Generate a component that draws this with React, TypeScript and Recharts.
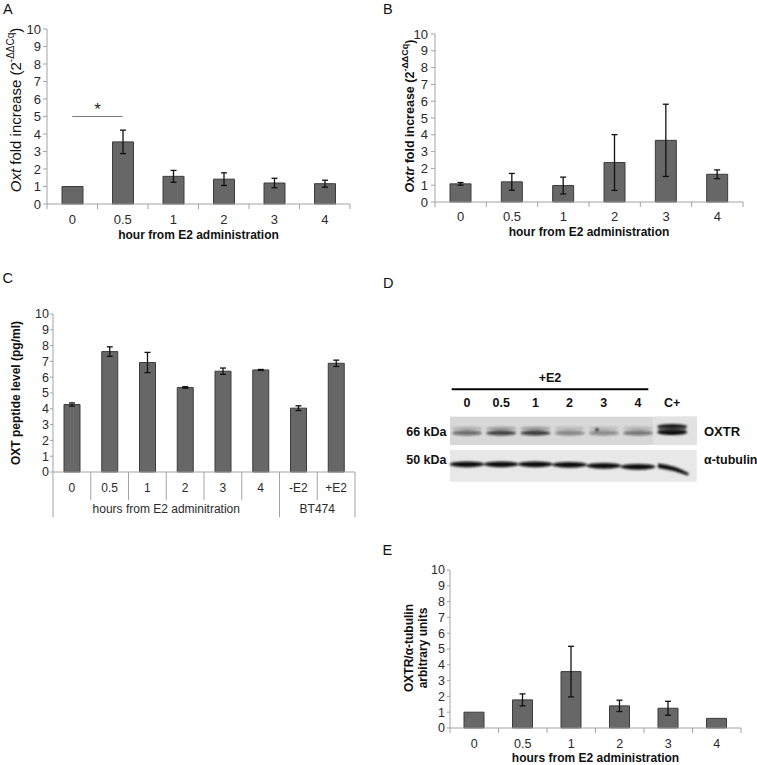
import React from "react";
import { BarChart, Bar, XAxis, YAxis, ErrorBar, ReferenceLine, Label } from "recharts";

const FONT = "'Liberation Sans', Arial, sans-serif";
const AXIS = "#a3a3a3";
const BAR_FILL = "#676767";
const BAR_EDGE = "#3c3c3c";
const TEXT = "#2a2a2a";

const yTicks = [0, 1, 2, 3, 4, 5, 6, 7, 8, 9, 10];
const hourCats = ["0", "0.5", "1", "2", "3", "4"];

// A - Oxt mRNA
const oxtMean = [1.0, 3.55, 1.58, 1.42, 1.2, 1.16];
const oxtErr = [0, 0.67, 0.34, 0.36, 0.27, 0.2];

// B - Oxtr mRNA
const oxtrMean = [1.08, 1.2, 0.98, 2.35, 3.67, 1.65];
const oxtrErr = [0.08, 0.5, 0.5, 1.66, 2.15, 0.26];

// C - OXT peptide
const peptideCats = ["0", "0.5", "1", "2", "3", "4", "-E2", "+E2"];
const peptideMean = [4.27, 7.62, 6.93, 5.35, 6.38, 6.46, 4.04, 6.88];
const peptideErr = [0.1, 0.3, 0.64, 0.05, 0.2, 0.03, 0.15, 0.2];
const peptideGroups = [
  { label: "hours from E2 adminitration", from: 0, to: 6 },
  { label: "BT474", from: 6, to: 8 },
];

// D - western blot lanes
const blotLanes = ["0", "0.5", "1", "2", "3", "4", "C+"];
const oxtrBand = [0.55, 0.75, 0.78, 0.42, 0.4, 0.5, 1];
const tubulinDrop = [0, 0, 0, 0.5, 1.5, 2.5];

// E - OXTR / tubulin
const ratioMean = [1.0, 1.78, 3.57, 1.4, 1.25, 0.61];
const ratioErr = [0, 0.38, 1.6, 0.36, 0.44, 0];

const rows = (cats: string[], mean: number[], err: number[]) =>
  cats.map((cat, i) => ({ cat, mean: mean[i], err: err[i] }));

function boundaryTick(bw: number, count: number, baseline: number, fontSize: number) {
  return (props: any) => {
    const { x, y, payload, index } = props;
    const left = x - bw / 2;
    return (
      <g>
        <line x1={left} y1={y} x2={left} y2={y + 5} stroke={AXIS} />
        {index === count - 1 && (
          <line x1={x + bw / 2} y1={y} x2={x + bw / 2} y2={y + 5} stroke={AXIS} />
        )}
        <text x={x} y={y + baseline} textAnchor="middle" fontSize={fontSize} fill={TEXT} fontFamily={FONT}>
          {payload.value}
        </text>
      </g>
    );
  };
}

function tableTick(bw: number, count: number) {
  return (props: any) => {
    const { x, y, payload, index } = props;
    const left = x - bw / 2;
    const group = peptideGroups.find((g) => g.from === index);
    return (
      <g>
        <line x1={left} y1={y} x2={left} y2={y + (group ? 45 : 28)} stroke={AXIS} />
        {index === count - 1 && (
          <line x1={x + bw / 2} y1={y} x2={x + bw / 2} y2={y + 45} stroke={AXIS} />
        )}
        <text x={x} y={y + 19.5} textAnchor="middle" fontSize={12} fill={TEXT} fontFamily={FONT}>
          {payload.value}
        </text>
        {group && (
          <text
            x={left + ((group.to - group.from) * bw) / 2}
            y={y + 40.5}
            textAnchor="middle"
            fontSize={12}
            fill={TEXT}
            fontFamily={FONT}
          >
            {group.label}
          </text>
        )}
      </g>
    );
  };
}

const xTitle = (cx: number, y: number, text: string) => () =>
  (
    <text x={cx} y={y} textAnchor="middle" fontSize={12} fontWeight="bold" fill="#111" fontFamily={FONT}>
      {text}
    </text>
  );

const rot = (cx: number, cy: number) => `rotate(-90 ${cx} ${cy})`;

const yTitleA = () => (
  <text x={15} y={110} transform={rot(15, 110)} textAnchor="middle" dominantBaseline="central"
    fontSize={15} fill="#111" fontFamily={FONT}>
    <tspan fontStyle="italic">Oxt</tspan> fold increase (2
    <tspan dy={-5} fontSize={10}>-ΔΔCq</tspan>
    <tspan dy={5}>)</tspan>
  </text>
);

const yTitleB = () => (
  <text x={30} y={116} transform={rot(30, 116)} textAnchor="middle" dominantBaseline="central"
    fontSize={12.5} fontWeight="bold" fill="#111" fontFamily={FONT}>
    <tspan fontStyle="italic">Oxtr</tspan> fold increase (2
    <tspan dy={-5} fontSize={9}>-ΔΔCq</tspan>
    <tspan dy={5}>)</tspan>
  </text>
);

const yTitleC = () => (
  <text x={16} y={153} transform={rot(16, 153)} textAnchor="middle" dominantBaseline="central"
    fontSize={12} fontWeight="bold" fill="#111" fontFamily={FONT}>
    OXT peptide level (pg/ml)
  </text>
);

const yTitleE = () => (
  <g>
    <text x={29} y={108} transform={rot(29, 108)} textAnchor="middle" dominantBaseline="central"
      fontSize={12} fontWeight="bold" fill="#111" fontFamily={FONT}>
      OXTR/α-tubulin
    </text>
    <text x={43} y={108} transform={rot(43, 108)} textAnchor="middle" dominantBaseline="central"
      fontSize={12} fontWeight="bold" fill="#111" fontFamily={FONT}>
      arbitrary units
    </text>
  </g>
);

type PanelProps = {
  left: number;
  top: number;
  width: number;
  height: number;
  margin: { top: number; right: number; bottom: number; left: number };
  yWidth: number;
  xHeight: number;
  data: { cat: string; mean: number; err: number }[];
  barSize: number;
  tick: any;
  yTickSize: number;
  yTickMargin: number;
  yFont: number;
  yTitle: any;
  xLabel?: any;
  children?: React.ReactNode;
};

function Panel(p: PanelProps) {
  return (
    <div style={{ position: "absolute", left: p.left, top: p.top }}>
      <BarChart width={p.width} height={p.height} data={p.data} margin={p.margin} style={{ fontFamily: FONT }}>
        <XAxis
          dataKey="cat"
          height={p.xHeight}
          interval={0}
          tickLine={false}
          tickSize={0}
          tickMargin={0}
          axisLine={{ stroke: AXIS }}
          tick={p.tick}
        >
          {p.xLabel && <Label content={p.xLabel} />}
        </XAxis>
        <YAxis
          width={p.yWidth}
          domain={[0, 10]}
          ticks={yTicks}
          interval={0}
          axisLine={{ stroke: AXIS }}
          tickLine={{ stroke: AXIS }}
          tickSize={p.yTickSize}
          tickMargin={p.yTickMargin}
          tick={{ fill: TEXT, fontSize: p.yFont, fontFamily: FONT }}
        >
          <Label content={p.yTitle} />
        </YAxis>
        <Bar dataKey="mean" fill={BAR_FILL} stroke={BAR_EDGE} strokeWidth={1} barSize={p.barSize} isAnimationActive={false}>
          <ErrorBar dataKey="err" width={3} stroke="#111" strokeWidth={1.3} direction="y" isAnimationActive={false} />
        </Bar>
        {p.children}
      </BarChart>
    </div>
  );
}

function Blot() {
  const x0 = 467;
  const step = 34.2;
  return (
    <g fontFamily={FONT} fontWeight="bold" fill="#111">
      <defs>
        <filter id="soft" x="-20%" y="-100%" width="140%" height="300%">
          <feGaussianBlur stdDeviation="1.1" />
        </filter>
      </defs>
      <text x={550} y={381.5} textAnchor="middle" fontSize={12.5}>+E2</text>
      <line x1={451.7} y1={389.3} x2={648.3} y2={389.3} stroke="#000" strokeWidth={2} />
      {blotLanes.map((l, i) => (
        <text key={l} x={x0 + i * step} y={407.3} textAnchor="middle" fontSize={12.5}>{l}</text>
      ))}
      <rect x={450} y={416.7} width={246.7} height={28.3} fill="#d8d8d8" />
      <rect x={653} y={416.7} width={43.7} height={28.3} fill="#e2e2e2" />
      <g filter="url(#soft)">
        {oxtrBand.map((a, i) =>
          i < 6 ? (
            <g key={i}>
              <ellipse cx={x0 + i * step} cy={428.5} rx={15} ry={1.8} fill="#222" opacity={a * 0.45} />
              <ellipse cx={x0 + i * step} cy={433} rx={15} ry={2.6} fill="#111" opacity={a} />
            </g>
          ) : (
            <g key={i}>
              <ellipse cx={x0 + i * step} cy={426.5} rx={15} ry={2.6} fill="#000" opacity={0.9 * a} />
              <ellipse cx={x0 + i * step} cy={432.3} rx={15} ry={2.8} fill="#000" opacity={a} />
              <rect x={x0 + i * step - 14} y={427} width={28} height={5} fill="#333" opacity={0.6} />
            </g>
          )
        )}
        <circle cx={597} cy={429.5} r={1.6} fill="#111" />
      </g>
      <text x={446.5} y={435.7} textAnchor="end" fontSize={12.5}>66 kDa</text>
      <text x={704} y={435.7} fontSize={13}>OXTR</text>

      <rect x={450} y={450} width={246.7} height={31.7} fill="#e8e8e8" />
      <g filter="url(#soft)">
        {tubulinDrop.map((d, i) => (
          <ellipse key={i} cx={x0 + i * step} cy={464.3 + d} rx={17.5} ry={2.9} fill="#0d0d0d" />
        ))}
        <path d="M 658 463.5 Q 675 465 689 473.5 L 688 475.5 Q 673 470 658 468 Z" fill="#111" />
      </g>
      <text x={446.5} y={464.3} textAnchor="end" fontSize={12.5}>50 kDa</text>
      <text x={704} y={464.3} fontSize={12.5}>α-tubulin</text>
    </g>
  );
}

export default function App() {
  return (
    <div
      style={{
        position: "absolute",
        left: 0,
        top: 0,
        width: 757,
        height: 765,
        background: "#fff",
        fontFamily: FONT,
        overflow: "hidden",
      }}
    >
      <svg width={757} height={765} style={{ position: "absolute", left: 0, top: 0 }}>
        <g fontFamily={FONT} fontSize={14.5} fill="#111">
          <text x={3} y={13.5}>A</text>
          <text x={383} y={13.5}>B</text>
          <text x={2.5} y={282.7}>C</text>
          <text x={383} y={288}>D</text>
          <text x={382.5} y={555}>E</text>
        </g>
        <Blot />
      </svg>

      <Panel
        left={0}
        top={0}
        width={380}
        height={250}
        margin={{ top: 29, right: 30, bottom: 10, left: 0 }}
        yWidth={47}
        xHeight={36}
        data={rows(hourCats, oxtMean, oxtErr)}
        barSize={21}
        tick={boundaryTick(303 / 6, 6, 20, 13)}
        yTickSize={4}
        yTickMargin={2}
        yFont={13}
        yTitle={yTitleA}
        xLabel={xTitle(198.5, 238.5, "hour from E2 administration")}
      >
        <ReferenceLine
          segment={[
            { x: "0", y: 5 },
            { x: "0.5", y: 5 },
          ]}
          stroke="#7a7a7a"
          strokeWidth={1.2}
          label={{ value: "*", position: "top", offset: 2, fontSize: 17, fill: "#222" }}
        />
      </Panel>

      <Panel
        left={380}
        top={0}
        width={377}
        height={250}
        margin={{ top: 34, right: 14, bottom: 10, left: 0 }}
        yWidth={55}
        xHeight={38}
        data={rows(hourCats, oxtrMean, oxtrErr)}
        barSize={21}
        tick={boundaryTick(308 / 6, 6, 19, 13)}
        yTickSize={4}
        yTickMargin={3}
        yFont={13}
        yTitle={yTitleB}
        xLabel={xTitle(209, 235.5, "hour from E2 administration")}
      />

      <Panel
        left={0}
        top={240}
        width={380}
        height={300}
        margin={{ top: 74, right: 25, bottom: 18, left: 0 }}
        yWidth={53}
        xHeight={50}
        data={rows(peptideCats, peptideMean, peptideErr)}
        barSize={16}
        tick={tableTick(302 / 8, 8)}
        yTickSize={3}
        yTickMargin={1}
        yFont={12.5}
        yTitle={yTitleC}
      />

      <Panel
        left={380}
        top={540}
        width={377}
        height={225}
        margin={{ top: 30, right: 16, bottom: 0, left: 0 }}
        yWidth={70}
        xHeight={37}
        data={rows(hourCats, ratioMean, ratioErr)}
        barSize={20}
        tick={boundaryTick(291 / 6, 6, 20, 12.5)}
        yTickSize={3}
        yTickMargin={2}
        yFont={12.5}
        yTitle={yTitleE}
        xLabel={xTitle(215.5, 222, "hours from  E2 administration")}
      />
    </div>
  );
}
